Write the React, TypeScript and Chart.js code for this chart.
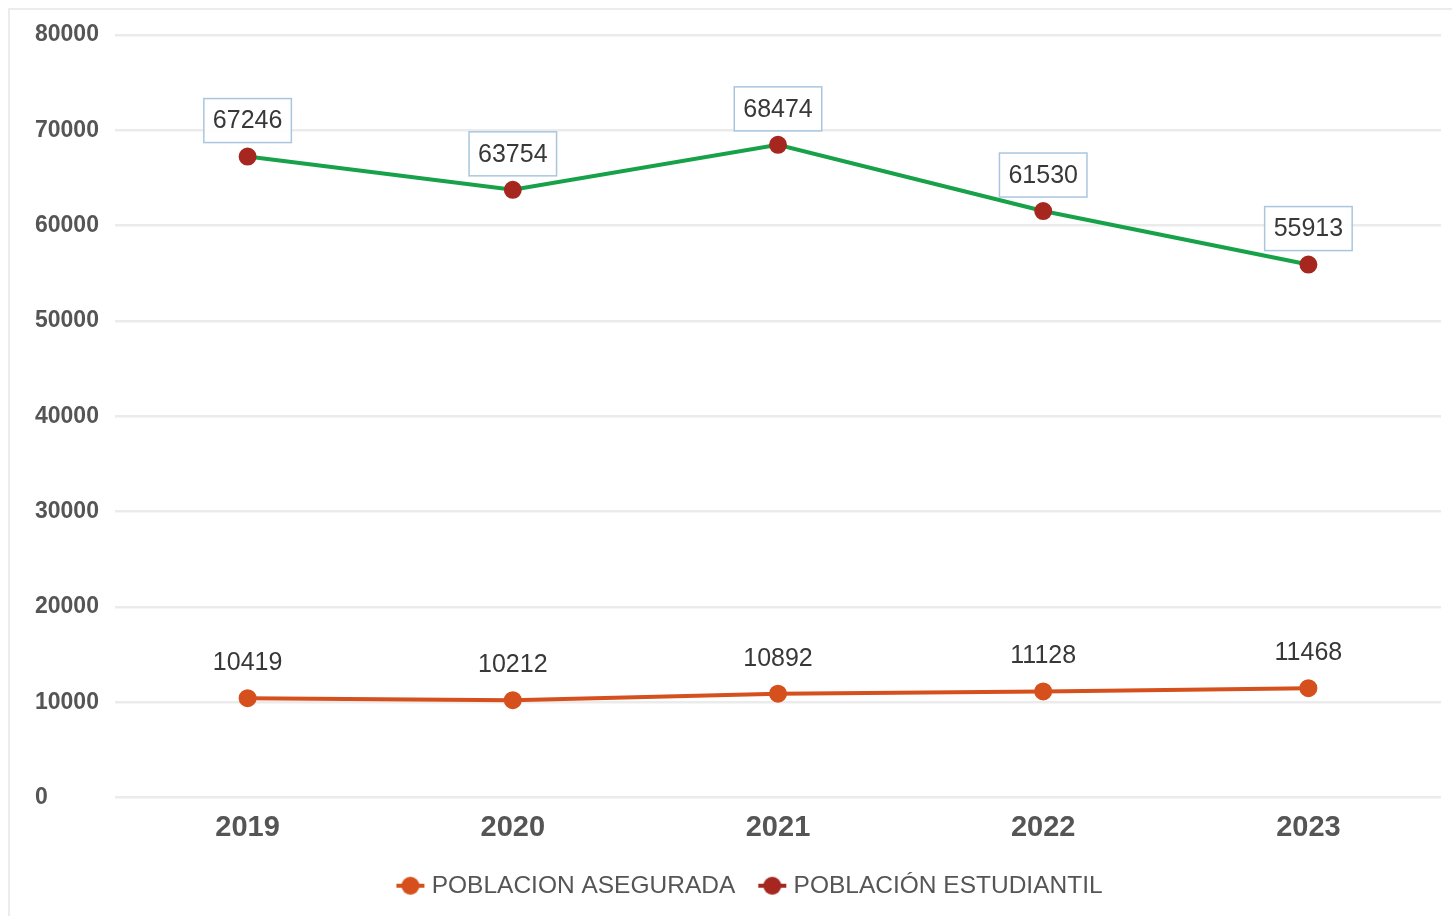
import React, { useEffect, useRef } from "react";
import { Chart, registerables } from "chart.js";

Chart.register(...registerables);

const years = ["2019", "2020", "2021", "2022", "2023"];
const aseguradaLabel = "POBLACION ASEGURADA";
const estudiantilLabel = "POBLACIÓN ESTUDIANTIL";
const asegurada = [10419, 10212, 10892, 11128, 11468];
const estudiantil = [67246, 63754, 68474, 61530, 55913];
const yTicks = [0, 10000, 20000, 30000, 40000, 50000, 60000, 70000, 80000];

const ORANGE = "#d6501d";
const GREEN = "#17a24a";
const DARKRED = "#a52720";
const FONT = "'Liberation Sans', Arial, sans-serif";

function makeMarker(color: string): HTMLCanvasElement {
  const c = document.createElement("canvas");
  c.width = 30;
  c.height = 20;
  const ctx = c.getContext("2d")!;
  ctx.strokeStyle = color;
  ctx.lineWidth = 4;
  ctx.beginPath();
  ctx.moveTo(1, 10);
  ctx.lineTo(29, 10);
  ctx.stroke();
  ctx.fillStyle = color;
  ctx.beginPath();
  ctx.arc(15, 10, 9, 0, Math.PI * 2);
  ctx.fill();
  return c;
}

const labelPlugin = {
  id: "valueLabels",
  afterLayout(chart: any) {
    if (chart.legend) {
      chart.legend.left += 14;
      chart.legend.right += 14;
    }
  },
  afterDatasetsDraw(chart: any) {
    const ctx = chart.ctx;
    chart.data.datasets.forEach((ds: any, di: number) => {
      const meta = chart.getDatasetMeta(di);
      if (meta.hidden) return;
      meta.data.forEach((pt: any, i: number) => {
        const text = String(ds.data[i]);
        const x = pt.x;
        const y = pt.y - 36;
        ctx.save();
        ctx.font = `25px ${FONT}`;
        const w = ctx.measureText(text).width;
        if (di === 1) {
          const bw = w + 18;
          const bh = 44;
          ctx.fillStyle = "rgba(255,255,255,0.9)";
          ctx.fillRect(x - bw / 2, y - bh / 2, bw, bh);
          ctx.strokeStyle = "#a9c6de";
          ctx.lineWidth = 1.5;
          ctx.strokeRect(x - bw / 2, y - bh / 2, bw, bh);
        }
        ctx.fillStyle = "#383838";
        ctx.textAlign = "center";
        ctx.textBaseline = "middle";
        ctx.fillText(text, x, y + 1);
        ctx.restore();
      });
    });
  },
};

export default function App() {
  const ref = useRef<HTMLCanvasElement>(null);

  useEffect(() => {
    if (!ref.current) return;
    const chart = new Chart(ref.current, {
      type: "line",
      data: {
        labels: years,
        datasets: [
          {
            label: aseguradaLabel,
            data: asegurada,
            borderColor: ORANGE,
            backgroundColor: ORANGE,
            pointBackgroundColor: ORANGE,
            pointBorderColor: ORANGE,
            borderWidth: 4,
            pointRadius: 7,
          },
          {
            label: estudiantilLabel,
            data: estudiantil,
            borderColor: GREEN,
            backgroundColor: DARKRED,
            pointBackgroundColor: DARKRED,
            pointBorderColor: DARKRED,
            borderWidth: 4,
            pointRadius: 7,
          },
        ],
      },
      options: {
        responsive: false,
        animation: false,
        layout: { padding: { left: 35, right: 11, top: 35, bottom: 0 } },
        plugins: {
          tooltip: { enabled: false },
          legend: {
            position: "bottom",
            labels: {
              usePointStyle: true,
              pointStyleWidth: 18,
              color: "#555",
              font: { family: FONT, size: 24.5 },
              padding: 28,
              generateLabels: () => [
                {
                  text: aseguradaLabel,
                  pointStyle: makeMarker(ORANGE),
                  fillStyle: ORANGE,
                  strokeStyle: ORANGE,
                  lineWidth: 0,
                  hidden: false,
                  datasetIndex: 0,
                  fontColor: "#555",
                } as any,
                {
                  text: estudiantilLabel,
                  pointStyle: makeMarker(DARKRED),
                  fillStyle: DARKRED,
                  strokeStyle: DARKRED,
                  lineWidth: 0,
                  hidden: false,
                  datasetIndex: 1,
                  fontColor: "#555",
                } as any,
              ],
            },
          },
        },
        scales: {
          x: {
            offset: true,
            grid: { display: false, drawTicks: false },
            border: { display: false },
            ticks: {
              color: "#555",
              font: { family: FONT, size: 29, weight: "bold" },
              padding: 13,
            },
            afterFit: (s: any) => {
              s.height = 48;
            },
          },
          y: {
            min: 0,
            max: 80000,
            afterBuildTicks: (s: any) => {
              s.ticks = yTicks.map((v) => ({ value: v }));
            },
            grid: { color: "#ebebeb", lineWidth: 2.5, drawTicks: false },
            border: { display: false },
            ticks: {
              color: "#555",
              crossAlign: "far",
              font: { family: FONT, size: 23, weight: "bold" },
              padding: 14,
              callback: (v: any) => String(v),
            },
            afterFit: (s: any) => {
              s.width = 80;
            },
          },
        },
      },
      plugins: [labelPlugin],
    });
    return () => chart.destroy();
  }, []);

  return (
    <div
      style={{
        position: "fixed",
        left: 0,
        top: 0,
        width: 1452,
        height: 916,
        background: "#fff",
        overflow: "hidden",
      }}
    >
      <div
        style={{
          position: "absolute",
          left: 8,
          top: 8,
          width: 1460,
          height: 920,
          borderLeft: "2px solid #ececec",
          borderTop: "2px solid #ececec",
        }}
      />
      <canvas
        ref={ref}
        width={1452}
        height={908}
        style={{ position: "absolute", left: 0, top: 0, width: 1452, height: 908 }}
      />
    </div>
  );
}
